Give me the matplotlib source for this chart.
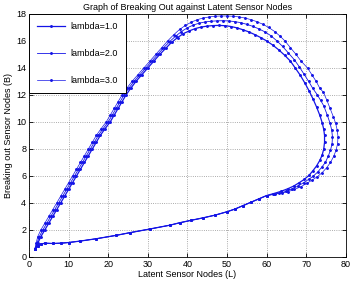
import numpy as np
import matplotlib
matplotlib.use('Agg')
from matplotlib import pyplot as plt

plt.rcParams['font.family'] = ['Liberation Sans', 'DejaVu Sans']

labels = ['lambda=1.0', 'lambda=2.0', 'lambda=3.0']

# lower branch shared by the three runs (back to the start point)
low_x = [60, 58, 56, 54, 52, 50, 47, 44, 41, 38, 35.5, 30.5, 25.5, 22, 17, 13, 10, 8, 6, 4, 3, 2.2, 1.5]
low_y = [4.55, 4.3, 4.05, 3.8, 3.55, 3.35, 3.1, 2.9, 2.72, 2.53, 2.35, 2.07, 1.8, 1.6, 1.35, 1.18, 1.07, 1.02,
         1.0, 1.02, 0.95, 0.8, 0.6]

# lambda = 1.0
L1 = [1.5, 2.2, 3, 4, 5, 6, 7, 8, 9, 10, 11, 12, 13, 14, 15, 16, 17, 18, 19.2, 20.5,
      21.5, 22.5, 23.5, 24.5, 25.7, 27, 28.5, 30, 31.5, 33, 34.5, 36, 37.5, 39, 40.5, 42, 43.5, 45, 46.5, 48,
      49.5, 51, 52.5, 54, 55.5, 57, 58.5, 60, 61.5, 63, 64.5, 66, 67.2, 68.5, 69.7, 70.7, 71.7, 72.6, 73.4, 74,
      74.4, 74.6, 74.6, 74.4, 74, 73.4, 72.6, 71.7, 70.7, 69.5, 68.2, 66.8, 65.3, 63.5, 61.8] + low_x
B1 = [0.6, 1.0, 1.5, 2.0, 2.5, 3.0, 3.5, 4.0, 4.5, 5.0, 5.5, 6.0, 6.5, 7.0, 7.5, 8.0, 8.5, 9.0, 9.5, 10.0,
      10.5, 11.0, 11.5, 12.0, 12.5, 13.0, 13.5, 14.0, 14.5, 15.0, 15.45, 15.9, 16.25, 16.55, 16.75, 16.92, 17.03, 17.1, 17.14, 17.15,
      17.13, 17.07, 16.97, 16.83, 16.67, 16.47, 16.25, 16.0, 15.7, 15.35, 14.95, 14.5, 14.0, 13.45, 12.85, 12.3, 11.7, 11.1, 10.5, 9.95,
      9.45, 9.0, 8.5, 8.0, 7.55, 7.15, 6.75, 6.4, 6.05, 5.75, 5.5, 5.25, 5.05, 4.85, 4.7] + low_y

# lambda = 2.0
L2 = [1.5, 2.0, 2.6, 3.5, 4.5, 5.5, 6.5, 7.5, 8.5, 9.5, 10.5, 11.5, 12.5, 13.5, 14.5, 15.5, 16.5, 17.5, 18.7, 20.0,
      21, 22, 23, 24, 25.2, 26.5, 28, 29.5, 31, 32.5, 34, 35.5, 37, 38.5, 40, 41.5, 43, 44.5, 46, 47.5, 49,
      50.5, 52, 53.5, 55, 56.5, 58, 59.5, 61, 62.6, 64, 65.5, 67, 68.2, 69.4, 70.6, 71.6, 72.8, 73.6, 74.4, 75.3,
      76.0, 76.4, 76.6, 76.5, 76.1, 75.5, 74.8, 73.9, 72.9, 71.8, 70.6, 69.3, 67.9, 66.4, 64.8, 63.2, 61.6] + low_x
B2 = [0.6, 1.0, 1.5, 2.0, 2.5, 3.0, 3.5, 4.0, 4.5, 5.0, 5.5, 6.0, 6.5, 7.0, 7.5, 8.0, 8.5, 9.0, 9.5, 10.0,
      10.5, 11.0, 11.5, 12.0, 12.5, 13.0, 13.5, 14.0, 14.5, 15.0, 15.5, 15.95, 16.35, 16.7, 16.98, 17.18, 17.32, 17.41, 17.46, 17.49, 17.5,
      17.48, 17.43, 17.35, 17.23, 17.08, 16.9, 16.68, 16.4, 16.0, 15.6, 15.1, 14.6, 14.1, 13.55, 13.0, 12.5, 12.0, 11.6, 11.2, 10.5,
      9.9, 9.4, 8.9, 8.4, 7.9, 7.45, 7.0, 6.65, 6.3, 6.0, 5.75, 5.5, 5.25, 5.05, 4.85, 4.72, 4.63] + low_y

# lambda = 3.0
L3 = [1.5, 1.8, 2.2, 3, 4, 5, 6, 7, 8, 9, 10, 11, 12, 13, 14, 15, 16, 17, 18.2, 19.5,
      20.5, 21.5, 22.5, 23.5, 24.7, 26, 27.5, 29, 30.5, 32, 33.5, 35, 36.5, 38, 39.5, 41, 42.5, 44, 45.5, 47, 48.5, 50,
      51.5, 53, 54.5, 56, 57.5, 59, 60.5, 62, 63.4, 64.6, 66, 67.4, 68.7, 70.3, 71.4, 72.5, 73.4, 74.3, 75.2, 76.0,
      76.8, 77.4, 77.8, 78.0, 77.9, 77.5, 76.9, 76.1, 75.1, 74.0, 72.8, 71.5, 70.1, 68.6, 67.0, 65.4, 63.8, 62.2] + low_x
B3 = [0.6, 1.0, 1.5, 2.0, 2.5, 3.0, 3.5, 4.0, 4.5, 5.0, 5.5, 6.0, 6.5, 7.0, 7.5, 8.0, 8.5, 9.0, 9.5, 10.0,
      10.5, 11.0, 11.5, 12.0, 12.5, 13.0, 13.5, 14.0, 14.5, 15.0, 15.5, 16.0, 16.45, 16.85, 17.15, 17.4, 17.58, 17.7, 17.78, 17.83, 17.85, 17.85,
      17.83, 17.78, 17.7, 17.58, 17.43, 17.24, 17.0, 16.7, 16.35, 16.0, 15.5, 15.0, 14.5, 14.0, 13.5, 13.0, 12.5, 12.2, 11.6, 11.0,
      10.4, 9.9, 9.4, 8.9, 8.4, 7.9, 7.45, 7.0, 6.6, 6.25, 5.95, 5.7, 5.45, 5.2, 5.0, 4.84, 4.74, 4.66] + low_y

fig = plt.figure(figsize=(3.53, 2.83), dpi=100)
ax = fig.add_axes([0.082, 0.092, 0.898, 0.8587])

for xs, ys, lab, lw in zip([L1, L2, L3], [B1, B2, B3], labels, [0.9, 0.6, 0.5]):
    ax.plot(xs, ys, '.-', color='#1414e6', lw=lw, ms=2.2, label=lab)

ax.set_xlim(0, 80)
ax.set_ylim(0, 18)
ax.set_xticks(np.arange(0, 81, 10))
ax.set_yticks(np.arange(0, 19, 2))
ax.grid(True, linestyle=':', color='#909090', lw=0.6)
ax.tick_params(direction='in', top=True, right=True, length=3, width=0.6, labelsize=6.5, pad=2)
for s in ax.spines.values():
    s.set_linewidth(0.6)

ax.set_title('Graph of Breaking Out against Latent Sensor Nodes', fontsize=6.5, pad=3)
ax.set_xlabel('Latent Sensor Nodes (L)', fontsize=6.5, labelpad=1)
ax.set_ylabel('Breaking out Sensor Nodes (B)', fontsize=6.5, labelpad=2)

leg = ax.legend(loc='upper left', borderaxespad=0, fontsize=6.5, fancybox=False,
                edgecolor='black', framealpha=1, labelspacing=2.0, handlelength=3.1,
                handletextpad=0.55, borderpad=0.9)
leg.get_frame().set_linewidth(0.7)

fig.savefig('out.png', dpi=100)
